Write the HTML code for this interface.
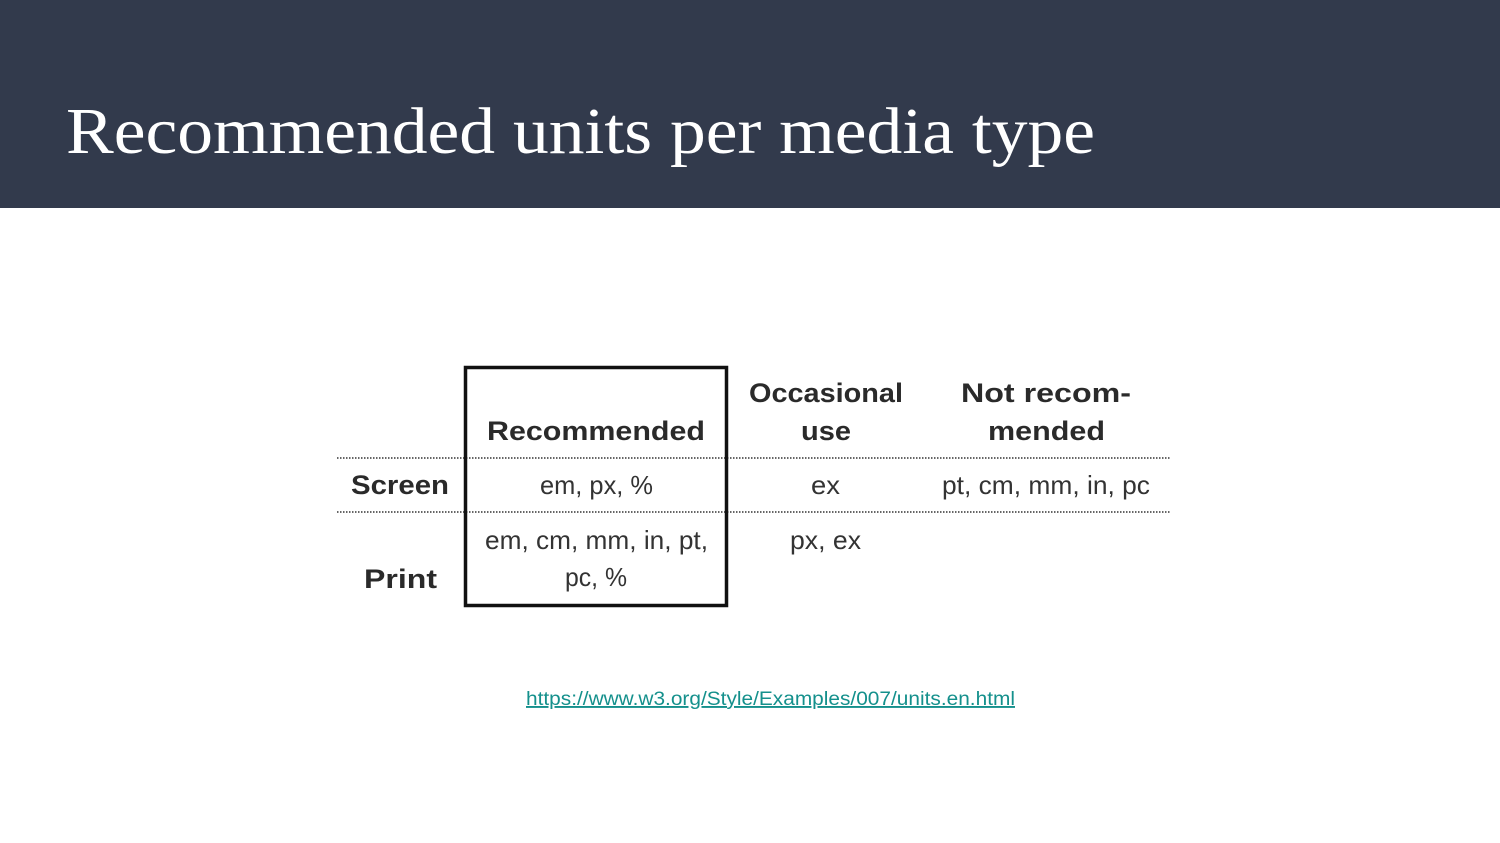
<!DOCTYPE html>
<html><head><meta charset="utf-8"><style>
html,body{margin:0;padding:0;width:1500px;height:843px;overflow:hidden;background:#fff}
svg{display:block}
.t{font-family:"Liberation Serif",serif;fill:#fff}
.b{font-family:"Liberation Sans",sans-serif;font-weight:bold;fill:#2a2a2a;font-size:27px}
.r{font-family:"Liberation Sans",sans-serif;fill:#333;font-size:26px}
</style></head><body>
<svg width="1500" height="843" viewBox="0 0 1500 843">
<rect x="0" y="0" width="1500" height="208" fill="#323a4c"/>
<text class="t" x="66" y="153" font-size="66" textLength="1029" lengthAdjust="spacingAndGlyphs">Recommended units per media type</text>

<g>
<line x1="337" y1="458" x2="1170" y2="458" stroke="#333" stroke-width="1.5" stroke-dasharray="1.5,1.5"/>
<line x1="337" y1="512" x2="1170" y2="512" stroke="#333" stroke-width="1.5" stroke-dasharray="1.5,1.5"/>
<rect x="465.5" y="367.5" width="261" height="238" fill="none" stroke="#111" stroke-width="3.5"/>

<text class="b" x="487" y="440" textLength="218" lengthAdjust="spacingAndGlyphs">Recommended</text>
<text class="b" x="749" y="402" textLength="154" lengthAdjust="spacingAndGlyphs">Occasional</text>
<text class="b" x="801" y="440" textLength="50" lengthAdjust="spacingAndGlyphs">use</text>
<text class="b" x="961" y="402" textLength="170" lengthAdjust="spacingAndGlyphs">Not recom-</text>
<text class="b" x="988" y="440" textLength="117" lengthAdjust="spacingAndGlyphs">mended</text>

<text class="b" x="351" y="494" textLength="98" lengthAdjust="spacingAndGlyphs">Screen</text>
<text class="r" x="540" y="494" textLength="113" lengthAdjust="spacingAndGlyphs">em, px, %</text>
<text class="r" x="811" y="494" textLength="29" lengthAdjust="spacingAndGlyphs">ex</text>
<text class="r" x="942" y="494" textLength="208" lengthAdjust="spacingAndGlyphs">pt, cm, mm, in, pc</text>

<text class="b" x="364" y="588" textLength="73" lengthAdjust="spacingAndGlyphs">Print</text>
<text class="r" x="485" y="549" textLength="223" lengthAdjust="spacingAndGlyphs">em, cm, mm, in, pt,</text>
<text class="r" x="565" y="586" textLength="62" lengthAdjust="spacingAndGlyphs">pc, %</text>
<text class="r" x="790" y="549" textLength="71" lengthAdjust="spacingAndGlyphs">px, ex</text>
</g>

<text x="526" y="705" font-family="'Liberation Sans',sans-serif" font-size="19" fill="#14908c" text-decoration="underline" textLength="489" lengthAdjust="spacingAndGlyphs">https://www.w3.org/Style/Examples/007/units.en.html</text>
</svg>
</body></html>
